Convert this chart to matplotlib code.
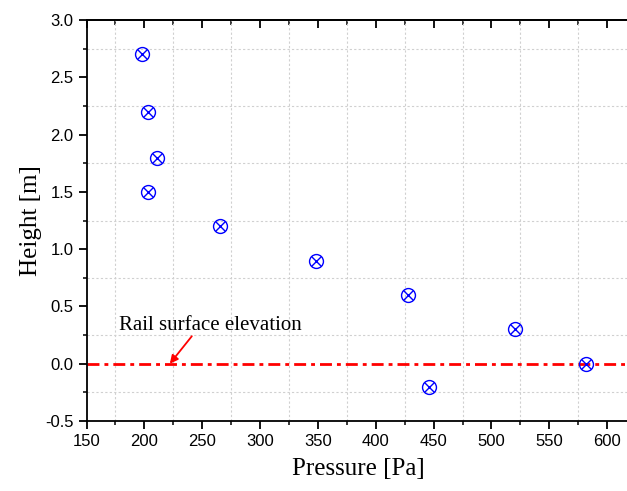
import numpy as np
import matplotlib.pyplot as plt
from matplotlib.ticker import MultipleLocator

pressure = [198, 203, 211, 203, 265, 348, 428, 446, 520, 582]
height = [2.7, 2.2, 1.8, 1.5, 1.2, 0.9, 0.6, -0.2, 0.3, 0.0]
rail_level = 0.0

fig = plt.figure(figsize=(6.27, 4.91), dpi=100)
ax = fig.add_axes([0.138, 0.1426, 0.8673, 0.8166])

ax.axhline(rail_level, color='red', ls=(0, (4.3, 1.8, 1.4, 1.8)), lw=2.0, zorder=2)
ax.plot(pressure, height, ls='none', marker='o', ms=10, mfc='none', mec='blue', mew=1.0, zorder=3)
ax.plot(pressure, height, ls='none', marker='x', ms=7, mec='blue', mew=1.0, zorder=3)

ax.set_xlim(150, 620)
ax.set_ylim(-0.5, 3.0)
ax.xaxis.set_major_locator(MultipleLocator(50))
ax.xaxis.set_minor_locator(MultipleLocator(25))
ax.yaxis.set_major_locator(MultipleLocator(0.5))
ax.yaxis.set_minor_locator(MultipleLocator(0.25))
ax.yaxis.set_major_formatter(plt.FormatStrFormatter('%.1f'))

# grid only on the in-between (minor) positions
ax.grid(which='minor', color='#d0d0d0', ls=(0, (2, 2)), lw=0.8)
ax.set_axisbelow(True)

for s in ax.spines.values():
    s.set_linewidth(1.3)
ax.tick_params(which='major', direction='out', length=6, width=1.3, labelsize=12, top=False)
ax.tick_params(which='minor', direction='out', length=3, width=1.1)
for lab in ax.get_xticklabels() + ax.get_yticklabels():
    lab.set_family('Liberation Sans')

sec = ax.secondary_xaxis('top')
sec.xaxis.set_major_locator(MultipleLocator(50))
sec.xaxis.set_minor_locator(MultipleLocator(25))
sec.tick_params(which='major', direction='in', length=6, width=1.3, labeltop=False)
sec.tick_params(which='minor', direction='in', length=3.5, width=1.1)
sec.spines['top'].set_linewidth(1.3)

ax.set_xlabel('Pressure [Pa]', family='Liberation Serif', fontsize=18, labelpad=6)
ax.set_ylabel('Height [m]', family='Liberation Serif', fontsize=18, labelpad=2)

ax.text(257, 0.29, 'Rail surface elevation', ha='center', va='baseline',
        family='Liberation Serif', fontsize=15)
ax.annotate('', xy=(222, 0.0), xytext=(241, 0.24),
            arrowprops=dict(arrowstyle='-|>', color='red', lw=1.3, mutation_scale=12,
                            shrinkA=0, shrinkB=0))

fig.savefig('out.png', dpi=100)
